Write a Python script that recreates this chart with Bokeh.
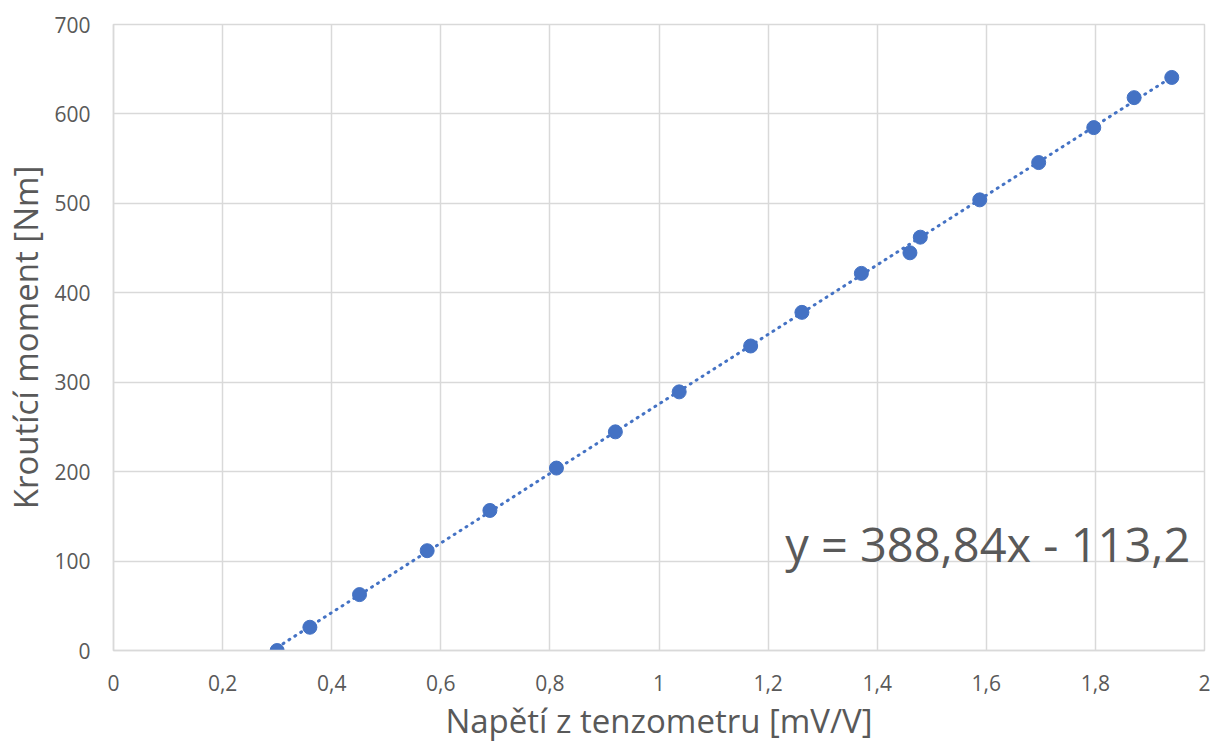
from bokeh.plotting import figure
from bokeh.models import FixedTicker, Label, Range1d
from bokeh.embed import file_html
from bokeh.resources import INLINE

# ---- data ----
napeti = [0.300, 0.360, 0.451, 0.575, 0.690, 0.812, 0.920, 1.037, 1.168,
          1.262, 1.371, 1.460, 1.479, 1.588, 1.696, 1.797, 1.871, 1.940]
moment = [0.0, 26.0, 62.5, 111.6, 156.6, 204.0, 244.5, 289.2, 340.5,
          378.1, 421.7, 444.7, 462.2, 503.9, 545.6, 584.7, 618.2, 640.8]
slope = 388.84
intercept = -113.2
equation_text = "y = 388,84x - 113,2"
x_ticks = [0, 0.2, 0.4, 0.6, 0.8, 1.0, 1.2, 1.4, 1.6, 1.8, 2.0]
x_tick_labels = ["0", "0,2", "0,4", "0,6", "0,8", "1", "1,2", "1,4", "1,6", "1,8", "2"]
y_ticks = [0, 100, 200, 300, 400, 500, 600, 700]
x_title = "Napětí z tenzometru [mV/V]"
y_title = "Kroutící moment [Nm]"

FONT = "Open Sans"
TEXT = "#595959"
GRID = "#D9D9D9"
BLUE = "#4472C4"

p = figure(width=1212, height=745, output_backend="svg", toolbar_location=None,
           x_range=Range1d(0, 2), y_range=Range1d(0, 700),
           min_border_left=113, min_border_right=8, min_border_top=24, min_border_bottom=94)
p.outline_line_color = GRID
p.outline_line_width = 1.5
p.background_fill_color = "white"
p.border_fill_color = "white"

for ax in (p.xaxis[0], p.yaxis[0]):
    ax.axis_line_color = GRID
    ax.axis_line_width = 1.5
    ax.major_tick_line_color = None
    ax.minor_tick_line_color = None
    ax.major_tick_out = 0
    ax.major_tick_in = 0
    ax.major_label_text_font = FONT
    ax.major_label_text_font_size = "21px"
    ax.major_label_text_color = TEXT
    ax.axis_label_text_font = FONT
    ax.axis_label_text_font_size = "33px"
    ax.axis_label_text_font_style = "normal"
    ax.axis_label_text_color = TEXT

p.xaxis.ticker = FixedTicker(ticks=x_ticks)
p.xaxis.major_label_overrides = {t: l for t, l in zip(x_ticks, x_tick_labels)}
p.yaxis.ticker = FixedTicker(ticks=y_ticks)
p.xaxis.major_label_standoff = 24
p.yaxis.major_label_standoff = 23
p.xaxis.axis_label = x_title
p.yaxis.axis_label = y_title
p.xaxis.axis_label_standoff = 4
p.yaxis.axis_label_standoff = 3

p.xgrid.ticker = FixedTicker(ticks=x_ticks)
p.ygrid.ticker = FixedTicker(ticks=y_ticks)
p.grid.grid_line_color = GRID
p.grid.grid_line_width = 1.5

# trendline from the fitted equation
tx = [min(napeti), max(napeti)]
ty = [slope * v + intercept for v in tx]
p.line(tx, ty, line_color=BLUE, line_width=3, line_dash="1 6", line_cap="round")

p.scatter(napeti, moment, size=14, fill_color=BLUE, line_color=BLUE, line_width=1)

p.add_layout(Label(x=1.974, y=119.5, text=equation_text, text_align="right",
                   text_baseline="alphabetic", text_font=FONT,
                   text_font_size="47px", text_color=TEXT))

open("out.html", "w").write(file_html(p, INLINE))
